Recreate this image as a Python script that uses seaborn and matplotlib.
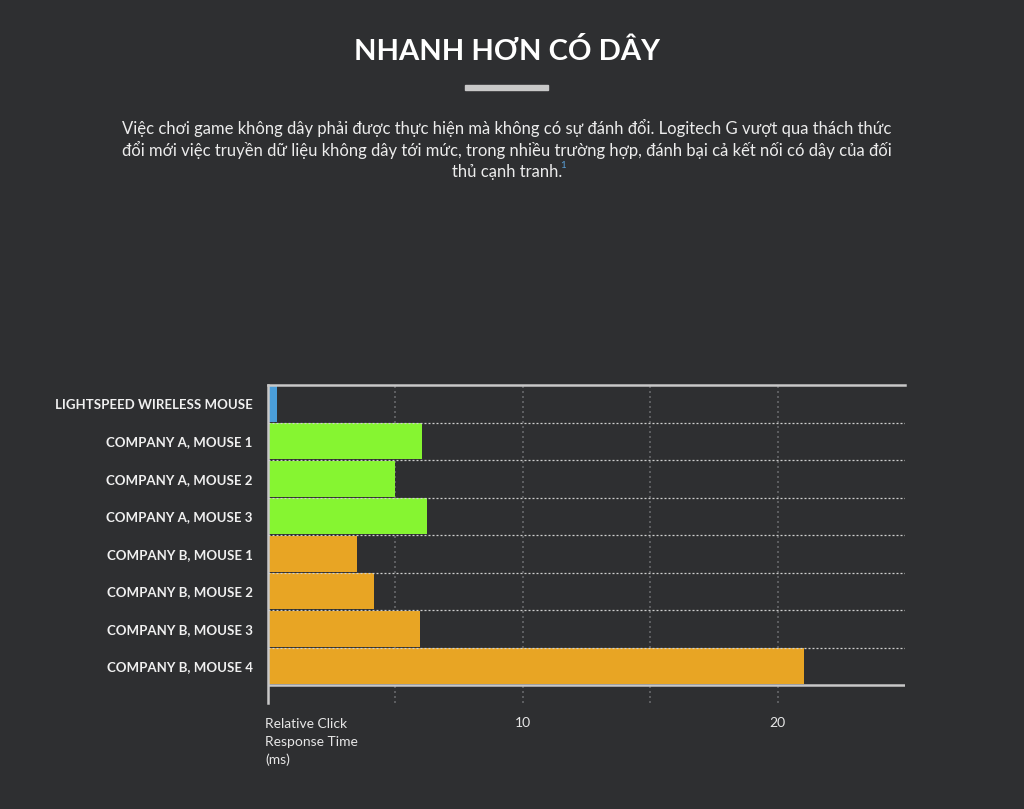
import matplotlib
matplotlib.use("Agg")
import matplotlib.pyplot as plt
import seaborn as sns
import pandas as pd

sns.set_style("dark")
plt.rcParams['font.family'] = ['Lato', 'Noto Sans', 'DejaVu Sans']

# Chart data (relative click response time, ms)
mice = ['LIGHTSPEED WIRELESS MOUSE', 'COMPANY A, MOUSE 1', 'COMPANY A, MOUSE 2',
        'COMPANY A, MOUSE 3', 'COMPANY B, MOUSE 1', 'COMPANY B, MOUSE 2',
        'COMPANY B, MOUSE 3', 'COMPANY B, MOUSE 4']
groups = ['Logitech', 'A', 'A', 'A', 'B', 'B', 'B', 'B']
response_ms = [0.35, 6.05, 5.0, 6.25, 3.5, 4.15, 5.95, 21.05]
tick_values = [5, 10, 15, 20]
tick_labels = ['', '10', '', '20']

title = 'NHANH HƠN CÓ DÂY'
body_lines = [
    'Việc chơi game không dây phải được thực hiện mà không có sự đánh đổi. Logitech G vượt qua thách thức',
    'đổi mới việc truyền dữ liệu không dây tới mức, trong nhiều trường hợp, đánh bại cả kết nối có dây của đối',
    'thủ cạnh tranh.',
]

bg = '#2e2f31'
palette = {'Logitech': '#4a9ed9', 'A': '#86f531', 'B': '#e8a524'}

df = pd.DataFrame({'mouse': mice, 'group': groups, 'ms': response_ms})

fig = plt.figure(figsize=(10.24, 8.09), dpi=100, facecolor=bg)
W, H = 1024, 809
# axes: x 268..905 px, y 385..703 px
ax = fig.add_axes([268 / W, 1 - 703 / H, (905 - 268) / W, (703 - 385) / H])
ax.set_facecolor(bg)

sns.barplot(data=df, x='ms', y='mouse', hue='group', palette=palette,
            dodge=False, width=0.95, legend=False, ax=ax, saturation=1,
            linewidth=0, zorder=2)

n = len(mice)
ax.set_xlim(0, 25)
ax.set_ylim(n - 0.5 + 0.48, -0.5)

# row separators
for i in range(n - 1):
    ax.axhline(i + 0.5, color='#cfcfcf', lw=0.9, ls=(0, (1.6, 1.6)), zorder=3)
ax.axhline(n - 0.5, color='#c8c8c8', lw=1.8, zorder=3)

ax.set_xticks(tick_values)
ax.set_xticklabels(tick_labels)
ax.grid(True, axis='x', color='#66676a', lw=1.2, ls=(0, (1.2, 1.8)), zorder=1)
ax.grid(False, axis='y')
ax.tick_params(axis='x', length=0, pad=10, labelsize=10, colors='#e6e6e6')
ax.tick_params(axis='y', length=0, pad=11, labelsize=9.5, colors='#f0f0f0')
for lab in ax.get_yticklabels():
    lab.set_fontweight('bold')
ax.set_xlabel('')
ax.set_ylabel('')

for side in ['right', 'bottom']:
    ax.spines[side].set_visible(False)
ax.spines['top'].set_color('#c8c8c8')
ax.spines['top'].set_linewidth(1.8)
ax.spines['left'].set_color('#c8c8c8')
ax.spines['left'].set_linewidth(1.8)

fig.text(265 / W, 1 - 718 / H, 'Relative Click\nResponse Time\n(ms)', ha='left', va='top',
         fontsize=10, color='#e6e6e6', linespacing=1.55)

# header
fig.text(507 / W, 1 - 52 / H, title, ha='center', va='center', fontsize=21,
         fontweight='bold', color='white')
fig.patches.append(plt.Rectangle((465 / W, 1 - 90 / H), 83 / W, 5 / H,
                                 transform=fig.transFigure, color='#c8c8c8'))
for k, line in enumerate(body_lines):
    t = fig.text(507 / W, 1 - (128 + 22 * k) / H, line, ha='center', va='center',
                 fontsize=12, color='#ececec')

fig.canvas.draw()
bb = t.get_window_extent()
fig.text(bb.x1 / W - 2 / W, 1 - 166 / H, '1', ha='left', va='center',
         fontsize=7, color='#5aa0d8')

fig.savefig('out.png', dpi=100, facecolor=bg)
